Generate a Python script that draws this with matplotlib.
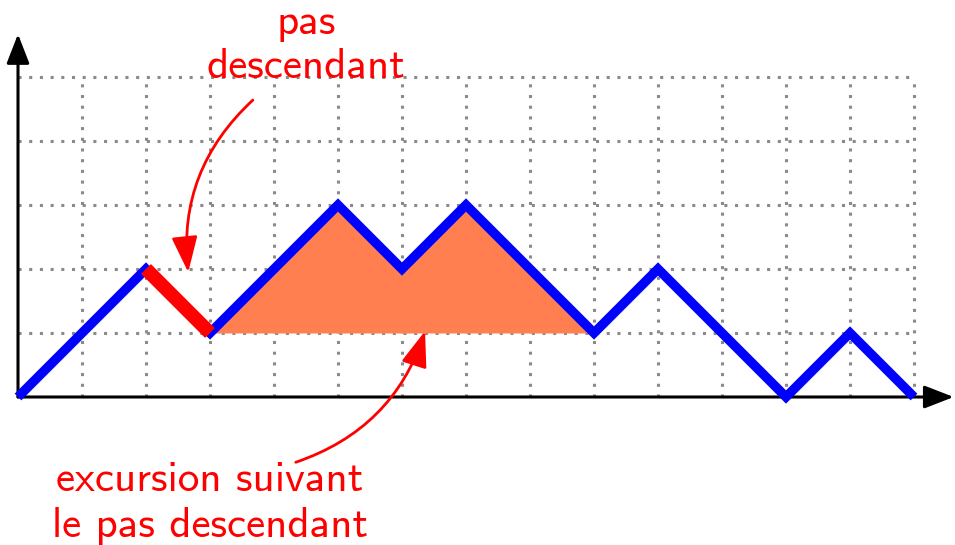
import matplotlib
matplotlib.use('Agg')
import matplotlib.pyplot as plt
from matplotlib.patches import FancyArrowPatch

# path of the walk (unit steps)
path_x = [0, 1, 2, 3, 4, 5, 6, 7, 8, 9, 10, 11, 12, 13, 14]
path_y = [0, 1, 2, 1, 2, 3, 2, 3, 2, 1, 2, 1, 0, 1, 0]

# highlighted down step and excursion after it
step_x = [2, 3]
step_y = [2, 1]
exc_x = [3, 4, 5, 6, 7, 8, 9]
exc_y = [1, 2, 3, 2, 3, 2, 1]
exc_base = 1

grid_w = 14
grid_h = 5

label_top = 'pas\ndescendant'
label_bottom = 'excursion suivant\nle pas descendant'

fig = plt.figure(figsize=(9.55, 5.45), dpi=100)
ax = fig.add_axes([0, 0, 1, 1])
ax.set_xlim(-18/64.0, (955-18)/64.0)
ax.set_ylim((397-545)/64.0, 397/64.0)
ax.axis('off')

# dotted grid
for gx in range(1, grid_w + 1):
    ax.plot([gx, gx], [0, grid_h], color='#8a8a8a', lw=2.2, linestyle=(0, (1, 2.5)), zorder=1)
for gy in range(1, grid_h + 1):
    ax.plot([0, grid_w], [gy, gy], color='#8a8a8a', lw=2.2, linestyle=(0, (1, 2.5)), zorder=1)

# axes with arrow heads
ax.add_patch(FancyArrowPatch((0, 0), (14.62, 0), arrowstyle='-|>,head_length=0.9,head_width=0.35',
                             mutation_scale=20, lw=2.2, color='black', zorder=2, shrinkA=0, shrinkB=0))
ax.add_patch(FancyArrowPatch((0, 0), (0, 5.67), arrowstyle='-|>,head_length=0.9,head_width=0.35',
                             mutation_scale=20, lw=2.2, color='black', zorder=2, shrinkA=0, shrinkB=0))

# excursion fill
ax.fill_between(exc_x, exc_y, exc_base, color='#FF7F50', lw=0, zorder=3)

# path
ax.plot(path_x, path_y, color='#0000FF', lw=6.8, solid_joinstyle='miter', solid_capstyle='butt', zorder=4)
ax.plot(step_x, step_y, color='#FF0000', lw=10, solid_capstyle='butt', zorder=5)

# annotations
font = ['cmss10', 'DejaVu Sans']
ax.text(4.5, 4.99, label_top, color='#FF0000', fontsize=31, family=font, ha='center', va='baseline',
        linespacing=1.2)
ax.text(3.0, -2.18, label_bottom, color='#FF0000', fontsize=31, family=font, ha='center', va='baseline',
        linespacing=1.25)

ax.add_patch(FancyArrowPatch((3.67, 4.64), (2.66, 1.95), connectionstyle='arc3,rad=0.25',
                             arrowstyle='-|>,head_length=1.1,head_width=0.4', mutation_scale=20,
                             lw=2, color='#FF0000', zorder=6, shrinkA=0, shrinkB=0))
ax.add_patch(FancyArrowPatch((4.34, -1.02), (6.36, 1.03), connectionstyle='arc3,rad=0.25',
                             arrowstyle='-|>,head_length=1.1,head_width=0.4', mutation_scale=20,
                             lw=2, color='#FF0000', zorder=6, shrinkA=0, shrinkB=0))

plt.savefig('out.png', dpi=100)
